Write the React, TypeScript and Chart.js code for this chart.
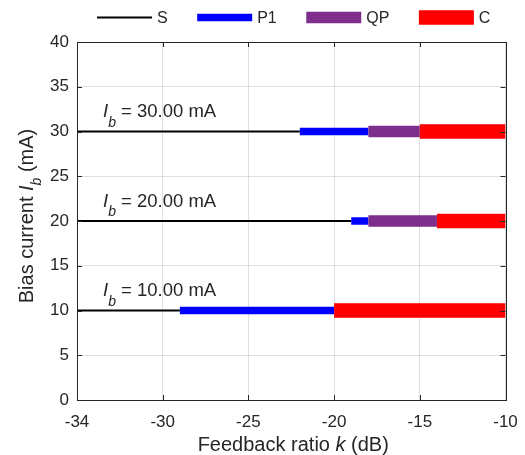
import React, { useEffect, useRef } from "react";
import { Chart, registerables } from "chart.js";

Chart.register(...registerables);

// ---------- data ----------
const biasCurrents = [30, 20, 10]; // mA
// regime ranges along k (dB) for each bias current
const sRanges: ([number, number] | null)[] = [[-35, -22], [-35, -19], [-35, -29]];
const p1Ranges: ([number, number] | null)[] = [[-22, -18], [-19, -18], [-29, -20]];
const qpRanges: ([number, number] | null)[] = [[-18, -15], [-18, -14], null];
const cRanges: ([number, number] | null)[] = [[-15, -10], [-14, -10], [-20, -10]];
const seriesNames = ["S", "P1", "QP", "C"];
const xTickLabels = ["-34", "-30", "-25", "-20", "-15", "-10"];

// ---------- styles ----------
const FONT = '"Liberation Sans", Arial, Helvetica, sans-serif';
const TEXT = "#262626";
const seriesColors = ["#000000", "#0000FF", "#7E2F8E", "#FF0000"];
const seriesWidths = [2, 7.5, 11.5, 14.5];

function buildData(ranges: ([number, number] | null)[]) {
  const pts: { x: number; y: number | null }[] = [];
  ranges.forEach((r, i) => {
    if (!r) return;
    pts.push({ x: r[0], y: biasCurrents[i] });
    pts.push({ x: r[1], y: biasCurrents[i] });
    pts.push({ x: r[1], y: null });
  });
  return pts;
}

type Part = { t: string; italic?: boolean; sub?: boolean };

function richWidth(ctx: CanvasRenderingContext2D, parts: Part[], size: number, subSize: number) {
  let w = 0;
  for (const p of parts) {
    ctx.font = `${p.italic ? "italic " : ""}${p.sub ? subSize : size}px ${FONT}`;
    w += ctx.measureText(p.t).width;
  }
  return w;
}

function drawRich(
  ctx: CanvasRenderingContext2D,
  x: number,
  y: number,
  parts: Part[],
  size: number,
  subSize: number,
  subOffset: number
) {
  let cx = x;
  ctx.textBaseline = "alphabetic";
  ctx.textAlign = "left";
  for (const p of parts) {
    ctx.font = `${p.italic ? "italic " : ""}${p.sub ? subSize : size}px ${FONT}`;
    ctx.fillText(p.t, cx, p.sub ? y + subOffset : y);
    cx += ctx.measureText(p.t).width;
  }
}

const decorPlugin = {
  id: "decor",
  afterDatasetsDraw(chart: any) {
    const { ctx, chartArea } = chart;
    const { left, right, top, bottom } = chartArea;
    const xs = chart.scales.x;
    const ys = chart.scales.y;
    ctx.save();
    ctx.strokeStyle = TEXT;
    ctx.lineWidth = 1;
    const tl = 5;
    ctx.beginPath();
    xs.ticks.forEach((t: any) => {
      const px = Math.round(xs.getPixelForValue(t.value)) + 0.5;
      ctx.moveTo(px, bottom);
      ctx.lineTo(px, bottom - tl);
      ctx.moveTo(px, top);
      ctx.lineTo(px, top + tl);
    });
    ys.ticks.forEach((t: any) => {
      const py = Math.round(ys.getPixelForValue(t.value)) + 0.5;
      ctx.moveTo(left, py);
      ctx.lineTo(left + tl, py);
      ctx.moveTo(right, py);
      ctx.lineTo(right - tl, py);
    });
    ctx.stroke();
    ctx.strokeRect(Math.round(left) + 0.5, Math.round(top) + 0.5, Math.round(right - left), Math.round(bottom - top));
    ctx.restore();
  },
  afterDraw(chart: any) {
    const { ctx, chartArea } = chart;
    const xs = chart.scales.x;
    const ys = chart.scales.y;
    ctx.save();
    ctx.fillStyle = TEXT;

    // annotations
    biasCurrents.forEach((ib) => {
      const px = xs.getPixelForValue(-35) + 26;
      const py = ys.getPixelForValue(ib) - 14.5;
      drawRich(
        ctx,
        px,
        py,
        [{ t: "I", italic: true }, { t: "b", italic: true, sub: true }, { t: ` = ${ib.toFixed(2)} mA` }],
        18.5,
        14,
        9.5
      );
    });

    // x title
    const xParts: Part[] = [{ t: "Feedback ratio " }, { t: "k", italic: true }, { t: " (dB)" }];
    const xw = richWidth(ctx, xParts, 20, 14);
    const xc = (chartArea.left + chartArea.right) / 2 + 2;
    drawRich(ctx, xc - xw / 2, 451, xParts, 20, 14, 7);

    // y title
    const yParts: Part[] = [
      { t: "Bias current " },
      { t: "I", italic: true },
      { t: "b", italic: true, sub: true },
      { t: " (mA)" },
    ];
    const yw = richWidth(ctx, yParts, 20, 14);
    ctx.save();
    ctx.translate(33, 216);
    ctx.rotate(-Math.PI / 2);
    drawRich(ctx, -yw / 2, 0, yParts, 20, 14, 8);
    ctx.restore();

    // legend
    let lx = 97;
    const ly = 17.5;
    ctx.font = `16px ${FONT}`;
    seriesNames.forEach((name, i) => {
      ctx.strokeStyle = seriesColors[i];
      ctx.lineWidth = seriesWidths[i];
      ctx.lineCap = "butt";
      ctx.beginPath();
      ctx.moveTo(lx, ly);
      ctx.lineTo(lx + 55, ly);
      ctx.stroke();
      ctx.fillStyle = TEXT;
      ctx.textAlign = "left";
      ctx.textBaseline = "middle";
      ctx.font = `16px ${FONT}`;
      ctx.fillText(name, lx + 60, ly + 1);
      lx += 60 + ctx.measureText(name).width + 29.5;
    });
    ctx.restore();
  },
};

export default function App() {
  const ref = useRef<HTMLCanvasElement>(null);
  useEffect(() => {
    if (!ref.current) return;
    const allRanges = [sRanges, p1Ranges, qpRanges, cRanges];
    const chart = new Chart(ref.current, {
      type: "line",
      data: {
        datasets: seriesNames.map((name, i) => ({
          label: name,
          data: buildData(allRanges[i]) as any,
          borderColor: seriesColors[i],
          backgroundColor: seriesColors[i],
          borderWidth: seriesWidths[i],
          borderCapStyle: "butt",
          pointRadius: 0,
          pointHoverRadius: 0,
          spanGaps: false,
          fill: false,
          order: seriesNames.length - i,
        })),
      },
      options: {
        animation: false,
        responsive: false,
        devicePixelRatio: 1,
        layout: { padding: { top: 42, right: 19.5, left: 0, bottom: 0 } },
        plugins: { legend: { display: false }, tooltip: { enabled: false }, title: { display: false } },
        scales: {
          x: {
            type: "linear",
            min: -35,
            max: -10,
            ticks: {
              stepSize: 5,
              color: TEXT,
              font: { family: FONT, size: 17 },
              padding: 12,
              maxRotation: 0,
              callback: (_v: any, idx: number) => xTickLabels[idx],
            },
            grid: { color: "rgba(38,38,38,0.15)", drawTicks: false },
            border: { display: true, color: TEXT },
            afterFit: (s: any) => {
              s.height = 55;
              s.paddingLeft = 0;
              s.paddingRight = 0;
            },
          },
          y: {
            type: "linear",
            min: 0,
            max: 40,
            ticks: {
              stepSize: 5,
              color: TEXT,
              font: { family: FONT, size: 17 },
              padding: 8,
            },
            grid: { color: "rgba(38,38,38,0.15)", drawTicks: false },
            border: { display: true, color: TEXT },
            afterFit: (s: any) => {
              s.width = 77;
              s.paddingTop = 0;
              s.paddingBottom = 0;
            },
          },
        },
      },
      plugins: [decorPlugin],
    });
    return () => chart.destroy();
  }, []);
  return (
    <div style={{ position: "absolute", left: 0, top: 0, width: 525, height: 455 }}>
      <canvas ref={ref} width={525} height={455} />
    </div>
  );
}
